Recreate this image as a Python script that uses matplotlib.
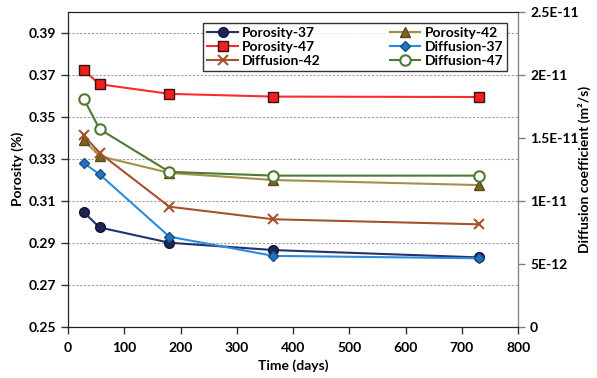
import matplotlib
matplotlib.use("Agg")
import matplotlib.pyplot as plt

plt.rcParams['font.family'] = ['Lato', 'DejaVu Sans']
plt.rcParams['font.weight'] = 'bold'

# data
days = [28, 56, 180, 365, 730]
porosity_37 = [0.3045, 0.2973, 0.2900, 0.2865, 0.2830]
porosity_42 = [0.3389, 0.3313, 0.3233, 0.3199, 0.3175]
porosity_47 = [0.3722, 0.3656, 0.3610, 0.3597, 0.3595]
diffusion_37 = [1.30e-11, 1.21e-11, 7.15e-12, 5.62e-12, 5.43e-12]
diffusion_42 = [1.52e-11, 1.38e-11, 9.53e-12, 8.53e-12, 8.13e-12]
diffusion_47 = [1.81e-11, 1.57e-11, 1.23e-11, 1.20e-11, 1.20e-11]

left_ticks = [0.25, 0.27, 0.29, 0.31, 0.33, 0.35, 0.37, 0.39]
right_ticks = [0, 5e-12, 1e-11, 1.5e-11, 2e-11, 2.5e-11]
right_labels = ['0', '5E-12', '1E-11', '1.5E-11', '2E-11', '2.5E-11']
x_ticks = [0, 100, 200, 300, 400, 500, 600, 700, 800]

fig = plt.figure(figsize=(5.97, 3.78), dpi=100)
ax = fig.add_axes([0.114, 0.136, 0.754, 0.832])
ax2 = ax.twinx()

lw = 1.5
p37, = ax.plot(days, porosity_37, color='#25306E', lw=lw, marker='o', ms=7,
               mfc='#1C2458', mec='#10163A', zorder=5)
p42, = ax.plot(days, porosity_42, color='#A39148', lw=lw, marker='^', ms=7,
               mfc='#7B6520', mec='#5A4A14', zorder=5)
p47, = ax.plot(days, porosity_47, color='#FF2A2A', lw=lw, marker='s', ms=7,
               mfc='#EE2020', mec='#3A1010', zorder=5)
d37, = ax2.plot(days, diffusion_37, color='#2E8BDC', lw=lw, marker='D', ms=5,
                mfc='#1F74C0', mec='#1A4F8A')
d42, = ax2.plot(days, diffusion_42, color='#A5532D', lw=lw, marker='x', ms=7,
                mew=1.5)
d47, = ax2.plot(days, diffusion_47, color='#4F7A32', lw=lw, marker='o', ms=7.5,
                mfc='white', mec='#4F7A32', mew=1.5)

ax.set_xlim(0, 800)
ax.set_ylim(0.25, 0.40)
ax2.set_ylim(0, 2.5e-11)
ax.set_xticks(x_ticks)
ax.set_yticks(left_ticks)
ax.set_yticklabels(['%.2f' % t for t in left_ticks])
ax2.set_yticks(right_ticks)
ax2.set_yticklabels(right_labels)

ax.yaxis.grid(True, linestyle=(0, (2, 1.5)), color='#A0A0A0', lw=0.8)
ax.set_axisbelow(True)

for a in (ax, ax2):
    a.tick_params(labelsize=10, width=1, length=5, direction='out')
ax.tick_params(colors='#333333', labelcolor='black')
ax.tick_params(axis='x', pad=6)
ax2.tick_params(axis='y', colors='#808080', labelcolor='black')
for s in ax.spines.values():
    s.set_color('#222222')
for s in ax2.spines.values():
    s.set_color('#222222')
ax2.spines['right'].set_color('#808080')

ax.set_xlabel('Time (days)', fontsize=10, fontweight='bold', labelpad=4)
ax.set_ylabel('Porosity (%)', fontsize=10, fontweight='bold', labelpad=3)
ax2.set_ylabel('Diffusion coefficient (m\u00b2/s)', fontsize=10, fontweight='bold')
ax2.yaxis.set_label_coords(1.133, 0.5)

handles = [p37, p47, d42, p42, d37, d47]
labels = ['Porosity-37', 'Porosity-47', 'Diffusion-42', 'Porosity-42', 'Diffusion-37', 'Diffusion-47']
leg = ax2.legend(handles, labels, ncol=2, loc='lower left', mode='expand',
                 bbox_to_anchor=(0.30, 0.8125, 0.676, 0.172), borderaxespad=0,
                 fontsize=10, frameon=True, fancybox=False, handlelength=2.2,
                 handletextpad=0.3, labelspacing=0.15, borderpad=0.3)
leg.get_frame().set_edgecolor('black')
leg.get_frame().set_linewidth(1)

fig.savefig('out.png', dpi=100)
